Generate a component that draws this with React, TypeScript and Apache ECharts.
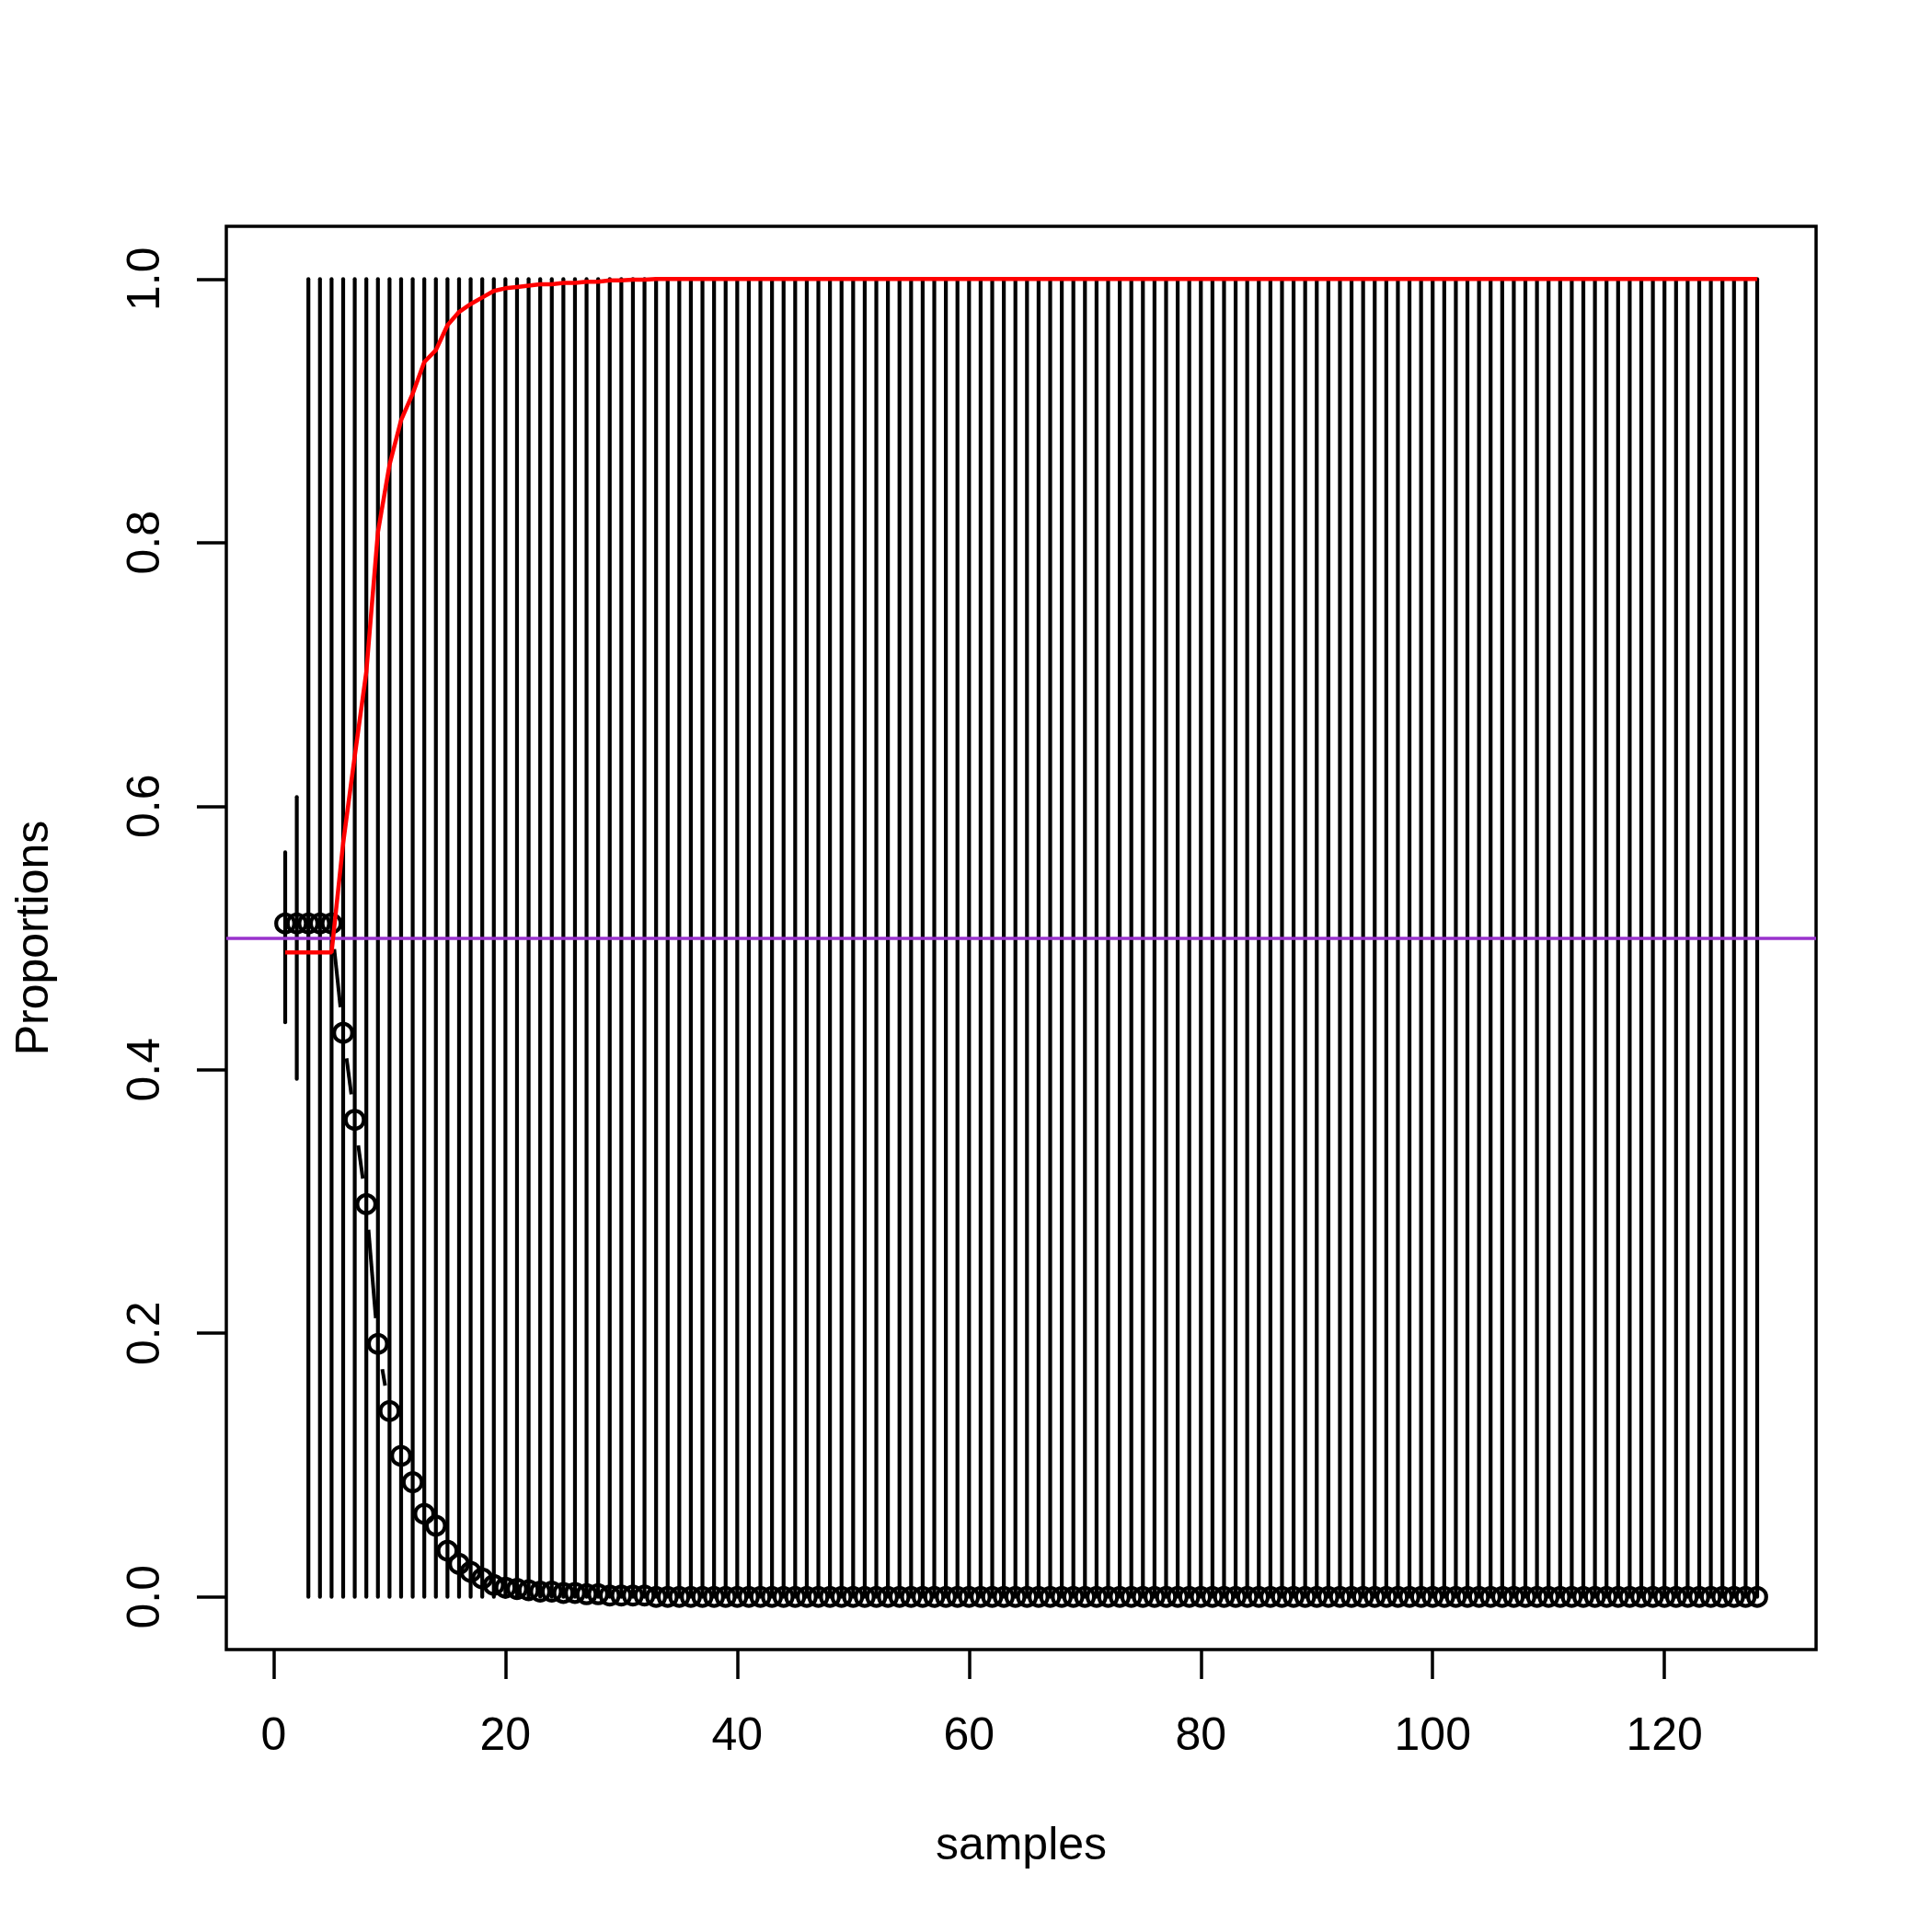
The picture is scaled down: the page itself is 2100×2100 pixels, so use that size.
import React, { useEffect, useRef } from "react";
import * as echarts from "echarts";

// x positions: sample index 1..128
const samples: number[] = Array.from({ length: 128 }, (_, i) => i + 1);

// black circles (proportion of first type)
const propBlack: number[] = [
  0.511, 0.511, 0.511, 0.511, 0.511, 0.428, 0.362, 0.298, 0.192, 0.141,
  0.107, 0.087, 0.063, 0.054, 0.035, 0.025, 0.019, 0.014, 0.009, 0.007,
  0.006, 0.005, 0.004, 0.004, 0.003, 0.003, 0.002, 0.002, 0.001, 0.001,
  0.001, 0.001, 0, 0, 0, 0, 0, 0, 0, 0,
  0, 0, 0, 0, 0, 0, 0, 0, 0, 0,
  0, 0, 0, 0, 0, 0, 0, 0, 0, 0,
  0, 0, 0, 0, 0, 0, 0, 0, 0, 0,
  0, 0, 0, 0, 0, 0, 0, 0, 0, 0,
  0, 0, 0, 0, 0, 0, 0, 0, 0, 0,
  0, 0, 0, 0, 0, 0, 0, 0, 0, 0,
  0, 0, 0, 0, 0, 0, 0, 0, 0, 0,
  0, 0, 0, 0, 0, 0, 0, 0, 0, 0,
  0, 0, 0, 0, 0, 0, 0, 0,
];

// red line (proportion of second type)
const propRed: number[] = [
  0.489, 0.489, 0.489, 0.489, 0.489, 0.572, 0.638, 0.702, 0.808, 0.859,
  0.893, 0.913, 0.937, 0.946, 0.965, 0.975, 0.981, 0.986, 0.991, 0.993,
  0.994, 0.995, 0.996, 0.996, 0.997, 0.997, 0.998, 0.998, 0.999, 0.999,
  0.9995, 0.9995, 1, 1, 1, 1, 1, 1, 1, 1,
  1, 1, 1, 1, 1, 1, 1, 1, 1, 1,
  1, 1, 1, 1, 1, 1, 1, 1, 1, 1,
  1, 1, 1, 1, 1, 1, 1, 1, 1, 1,
  1, 1, 1, 1, 1, 1, 1, 1, 1, 1,
  1, 1, 1, 1, 1, 1, 1, 1, 1, 1,
  1, 1, 1, 1, 1, 1, 1, 1, 1, 1,
  1, 1, 1, 1, 1, 1, 1, 1, 1, 1,
  1, 1, 1, 1, 1, 1, 1, 1, 1, 1,
  1, 1, 1, 1, 1, 1, 1, 1,
];

// vertical interval bars
const barLow: number[] = [
  0.436, 0.393, 0, 0, 0, 0, 0, 0, 0, 0,
  0, 0, 0, 0, 0, 0, 0, 0, 0, 0,
  0, 0, 0, 0, 0, 0, 0, 0, 0, 0,
  0, 0, 0, 0, 0, 0, 0, 0, 0, 0,
  0, 0, 0, 0, 0, 0, 0, 0, 0, 0,
  0, 0, 0, 0, 0, 0, 0, 0, 0, 0,
  0, 0, 0, 0, 0, 0, 0, 0, 0, 0,
  0, 0, 0, 0, 0, 0, 0, 0, 0, 0,
  0, 0, 0, 0, 0, 0, 0, 0, 0, 0,
  0, 0, 0, 0, 0, 0, 0, 0, 0, 0,
  0, 0, 0, 0, 0, 0, 0, 0, 0, 0,
  0, 0, 0, 0, 0, 0, 0, 0, 0, 0,
  0, 0, 0, 0, 0, 0, 0, 0,
];
const barHigh: number[] = [
  0.565, 0.607, 1, 1, 1, 1, 1, 1, 1, 1,
  1, 1, 1, 1, 1, 1, 1, 1, 1, 1,
  1, 1, 1, 1, 1, 1, 1, 1, 1, 1,
  1, 1, 1, 1, 1, 1, 1, 1, 1, 1,
  1, 1, 1, 1, 1, 1, 1, 1, 1, 1,
  1, 1, 1, 1, 1, 1, 1, 1, 1, 1,
  1, 1, 1, 1, 1, 1, 1, 1, 1, 1,
  1, 1, 1, 1, 1, 1, 1, 1, 1, 1,
  1, 1, 1, 1, 1, 1, 1, 1, 1, 1,
  1, 1, 1, 1, 1, 1, 1, 1, 1, 1,
  1, 1, 1, 1, 1, 1, 1, 1, 1, 1,
  1, 1, 1, 1, 1, 1, 1, 1, 1, 1,
  1, 1, 1, 1, 1, 1, 1, 1,
];

const refLine = 0.5;
const xTicks: number[] = [0, 20, 40, 60, 80, 100, 120];
const yTicks: number[] = [0, 0.2, 0.4, 0.6, 0.8, 1.0];
const xTitle = "samples";
const yTitle = "Proportions";

const FONT = "'Liberation Sans', Arial, Helvetica, sans-serif";

export default function App() {
  const ref = useRef<HTMLDivElement>(null);

  useEffect(() => {
    if (!ref.current) return;
    const chart = echarts.init(ref.current, null, { renderer: "svg" });

    const blackPts = samples.map((x, i) => [x, propBlack[i]]);
    const redPts = samples.map((x, i) => [x, propRed[i]]);
    const bars = samples.map((x, i) => [x, barLow[i], barHigh[i]]);
    const segs: number[][] = [];
    for (let i = 0; i < samples.length - 1; i++) {
      segs.push([samples[i], propBlack[i], samples[i + 1], propBlack[i + 1]]);
    }
    const GAP = 28;

    const option: any = {
      animation: false,
      backgroundColor: "#ffffff",
      grid: {
        left: 246,
        top: 246,
        width: 1728,
        height: 1547,
        show: true,
        borderColor: "#000",
        borderWidth: 3.5,
        backgroundColor: "transparent",
        containLabel: false,
      },
      xAxis: {
        type: "value",
        min: -4.08,
        max: 133.08,
        name: xTitle,
        nameLocation: "middle",
        nameGap: 186,
        nameTextStyle: { fontSize: 50, color: "#000", fontFamily: FONT },
        axisLine: { show: false, onZero: false },
        splitLine: { show: false },
        axisTick: {
          show: true,
          inside: false,
          length: 32,
          lineStyle: { color: "#000", width: 3.5 },
          customValues: xTicks,
        },
        axisLabel: {
          customValues: xTicks,
          fontSize: 50,
          color: "#000",
          margin: 67,
          fontFamily: FONT,
        },
      },
      yAxis: {
        type: "value",
        min: -0.04,
        max: 1.04,
        name: yTitle,
        nameLocation: "middle",
        nameRotate: 90,
        nameGap: 186,
        nameTextStyle: { fontSize: 50, color: "#000", fontFamily: FONT },
        axisLine: { show: false, onZero: false },
        splitLine: { show: false },
        axisTick: {
          show: true,
          inside: false,
          length: 32,
          lineStyle: { color: "#000", width: 3.5 },
          customValues: yTicks,
        },
        axisLabel: {
          customValues: yTicks,
          rotate: 90,
          fontSize: 50,
          color: "#000",
          margin: 65,
          fontFamily: FONT,
          formatter: (v: number) => v.toFixed(1),
        },
      },
      series: [
        {
          type: "custom",
          name: "bars",
          z: 2,
          silent: true,
          data: bars,
          encode: { x: 0, y: [1, 2] },
          renderItem: (params: any, api: any) => {
            const x = api.value(0);
            const p0 = api.coord([x, api.value(1)]);
            const p1 = api.coord([x, api.value(2)]);
            return {
              type: "line",
              shape: { x1: p0[0], y1: p0[1], x2: p1[0], y2: p1[1] },
              style: { stroke: "#000", lineWidth: 4.2, lineCap: "round" },
            };
          },
        },
        {
          type: "custom",
          name: "connect",
          z: 3,
          silent: true,
          data: segs,
          encode: { x: [0, 2], y: [1, 3] },
          renderItem: (params: any, api: any) => {
            const p0 = api.coord([api.value(0), api.value(1)]);
            const p1 = api.coord([api.value(2), api.value(3)]);
            const dx = p1[0] - p0[0];
            const dy = p1[1] - p0[1];
            const d = Math.sqrt(dx * dx + dy * dy);
            if (d <= 2 * GAP) return null;
            const ux = dx / d;
            const uy = dy / d;
            return {
              type: "line",
              shape: {
                x1: p0[0] + ux * GAP,
                y1: p0[1] + uy * GAP,
                x2: p1[0] - ux * GAP,
                y2: p1[1] - uy * GAP,
              },
              style: { stroke: "#000", lineWidth: 4 },
            };
          },
        },
        {
          type: "custom",
          name: "points",
          z: 3,
          silent: true,
          data: blackPts,
          encode: { x: 0, y: 1 },
          renderItem: (params: any, api: any) => {
            const p = api.coord([api.value(0), api.value(1)]);
            return {
              type: "circle",
              shape: { cx: p[0], cy: p[1], r: 9.8 },
              style: { fill: "none", stroke: "#000", lineWidth: 4.2 },
            };
          },
        },
        {
          type: "line",
          name: "ref",
          z: 4,
          silent: true,
          data: [],
          markLine: {
            silent: true,
            symbol: ["none", "none"],
            label: { show: false },
            lineStyle: { color: "#9932CC", width: 3.5, type: "solid" },
            data: [{ yAxis: refLine }],
          },
        },
        {
          type: "line",
          name: "red",
          z: 5,
          silent: true,
          showSymbol: false,
          symbol: "none",
          data: redPts,
          lineStyle: { color: "#ff0000", width: 4.5 },
        },
      ],
    };

    chart.setOption(option);
    return () => {
      chart.dispose();
    };
  }, []);

  return (
    <div
      ref={ref}
      style={{ position: "fixed", left: 0, top: 0, width: 2100, height: 2100, background: "#fff" }}
    />
  );
}
